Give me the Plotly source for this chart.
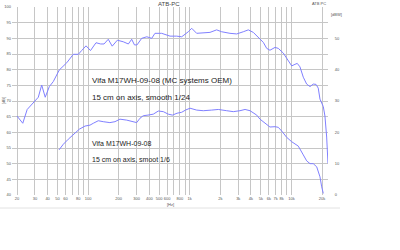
import plotly.graph_objects as go

# ---- data ----
freq_1_24 = [20, 22.8, 25.2, 28.9, 32.4, 35.0, 37.9, 41.6, 45.5, 52.1, 61.7, 71.6, 80.2, 86.5, 95.5,
             105.7, 119.7, 133, 143.6, 158, 172.8, 194, 222, 249, 268.6, 286, 303, 337, 378, 423,
             455, 530, 594, 640, 744, 834, 968, 1046, 1170, 1312, 1582, 1840, 2061, 2488, 2896,
             3364, 3768, 4220, 4722, 5296, 5716, 6152, 6902, 7430, 8318, 9312, 10070, 10840,
             11420, 12140, 13090, 14130, 15240, 16400, 17460, 18370, 19100, 20600, 21380, 22230,
             22750, 22900]
db_1_24 = [65.2, 62.9, 67.3, 69.5, 71.2, 75.1, 71.2, 74.6, 76.2, 79.9, 82.2, 84.9, 84.9, 86.1, 87.6,
           86.1, 88.6, 88.2, 88.2, 89.7, 87.5, 89.4, 88.9, 88.2, 89.7, 87.9, 87.9, 90.0, 90.5, 90.0,
           91.6, 91.6, 91.1, 90.7, 90.7, 90.5, 92.1, 93.2, 91.6, 91.8, 91.9, 92.7, 92.1, 91.6, 91.4,
           92.1, 92.7, 91.9, 90.3, 88.7, 86.8, 86.2, 87.1, 86.8, 85.3, 82.8, 81.2, 81.7,
           82.0, 80.9, 77.6, 75.4, 74.6, 75.4, 75.3, 74.1, 70.6, 68.2, 65.2, 58.5,
           52.8, 50.1]

freq_1_6 = [51.8, 57.1, 63.9, 71.6, 82.0, 93.3, 104.5, 112.6, 126, 141, 164, 184, 206, 240, 279,
            301, 324, 349, 388, 438, 491, 550, 615, 676, 750, 834, 908, 1007, 1170, 1359, 1644,
            1910, 2310, 2680, 3120, 3500, 3918, 4560, 4910, 5296, 5716, 6152, 6902, 7430, 8032,
            8990, 10070, 10840, 11690, 13090, 14130, 15240, 16400, 17740, 19100, 19860, 20600]
db_1_6 = [54.4, 56.2, 57.8, 59.4, 61.0, 62.0, 62.3, 62.9, 63.7, 63.4, 63.1, 63.4, 64.2, 63.9, 63.5,
          63.1, 64.5, 65.3, 65.5, 65.8, 66.8, 66.6, 65.8, 65.5, 66.1, 66.4, 67.1, 67.7, 67.1, 66.9, 67.1,
          67.3, 66.9, 66.6, 66.9, 67.3, 66.9, 65.5, 64.2, 63.4, 62.3, 61.7, 61.8, 61.6, 60.4,
          58.4, 57.0, 56.4, 55.6, 52.8, 50.9, 50.0, 50.0, 49.0, 45.8, 42.6, 40.5]

x_grid = [20, 30, 40, 50, 60, 70, 80, 90, 100, 200, 300, 400, 500, 600, 700, 800, 900,
          1000, 2000, 3000, 4000, 5000, 6000, 7000, 8000, 9000, 10000, 20000]
x_text = ["20", "30", "40", "50", "60", "", "80", "", "100", "200", "300", "400", "500", "600", "",
          "800", "", "1k", "2k", "3k", "4k", "5k", "6k", "7k", "8k", "", "10k", "20k"]
y_left_ticks = [100, 95, 90, 85, 80, 75, 70, 65, 60, 55, 50, 45, 40]
y_right_ticks = [0, 10, 20, 30, 40, 50]

title_text = "ATB-PC"
label1 = ["Vifa M17WH-09-08 (MC systems OEM)", "15 cm on axis, smooth 1/24"]
label2 = ["Vifa M17WH-09-08", "15 cm on axis, smoot 1/6"]

# ---- figure ----
W, H = 400, 250
L, R, T, B = 12, 72, 7, 55
PW, PH = W - L - R, H - T - B

def px(x):
    return (x - L) / PW

def py(y):
    return (H - B - y) / PH

line_col = "#8080ff"
grid_col = "#c6c6c6"
fam = "Liberation Sans, Arial, sans-serif"

fig = go.Figure()
fig.add_trace(go.Scatter(x=freq_1_24, y=db_1_24, mode="lines",
                         line=dict(color=line_col, width=1), hoverinfo="skip"))
fig.add_trace(go.Scatter(x=freq_1_6, y=db_1_6, mode="lines",
                         line=dict(color=line_col, width=1), hoverinfo="skip"))
# invisible trace that activates the right axis
fig.add_trace(go.Scatter(x=[100], y=[0], yaxis="y2", mode="markers",
                         marker=dict(opacity=0), hoverinfo="skip"))

fig.update_layout(
    width=W, height=H, margin=dict(l=L, r=R, t=T, b=B, pad=0),
    paper_bgcolor="white", plot_bgcolor="white", showlegend=False,
    font=dict(family=fam, size=4, color="#555"),
    xaxis=dict(type="log", range=[1.2519, 4.3600], tickmode="array",
               tickvals=x_grid, ticktext=x_text, tickangle=0, showgrid=True,
               gridcolor=grid_col, gridwidth=1, zeroline=False, showline=False,
               ticks="", tickfont=dict(size=4, color="#555"), automargin=False),
    yaxis=dict(range=[40, 100], tickmode="array", tickvals=y_left_ticks,
               showgrid=True, gridcolor=grid_col, gridwidth=1, zeroline=False,
               showline=False, ticks="", tickfont=dict(size=4, color="#555"),
               automargin=False),
    yaxis2=dict(range=[0, 60], overlaying="y", side="right", tickmode="array",
                tickvals=y_right_ticks, showgrid=False, zeroline=False, showline=False,
                ticks="outside", ticklen=5, tickcolor="rgba(0,0,0,0)",
                tickfont=dict(size=4, color="#555"), automargin=False),
)

# white boxes behind the text labels (hide grid, below traces)
for (yt, yb) in [(76, 110), (138, 170)]:
    fig.add_shape(type="rect", xref="paper", yref="paper",
                  x0=px(88), x1=px(237), y0=py(yb), y1=py(yt),
                  fillcolor="white", line=dict(width=0), layer="between")

# separator line under the chart
fig.add_shape(type="line", xref="paper", yref="paper",
              x0=px(0), x1=px(340), y0=py(208), y1=py(208),
              line=dict(color="#e2e2e2", width=1))

ann = []
ann.append(dict(text=title_text, x=px(169), y=py(4), font=dict(size=6, color="#444")))
ann.append(dict(text="ATB PC", x=px(328), y=py(3), xanchor="right", font=dict(size=4, color="#555")))
ann.append(dict(text="[dBW]", x=px(336), y=py(14), font=dict(size=4, color="#555")))
ann.append(dict(text="[dB]", x=px(3), y=py(101), textangle=-90, font=dict(size=4, color="#555")))
ann.append(dict(text="[Hz]", x=px(170), y=py(204), font=dict(size=4, color="#555")))
for t, y in zip(label1, [81, 97]):
    ann.append(dict(text=t, x=px(90), y=py(y), xanchor="left", font=dict(size=8, color="#222")))
for t, y in zip(label2, [143, 159]):
    ann.append(dict(text=t, x=px(90), y=py(y), xanchor="left", font=dict(size=7, color="#222")))
for a in ann:
    a.setdefault("xanchor", "center")
    a.update(xref="paper", yref="paper", yanchor="middle", showarrow=False)
    a["font"]["family"] = fam
fig.update_layout(annotations=ann)

fig.write_html("out.html")
